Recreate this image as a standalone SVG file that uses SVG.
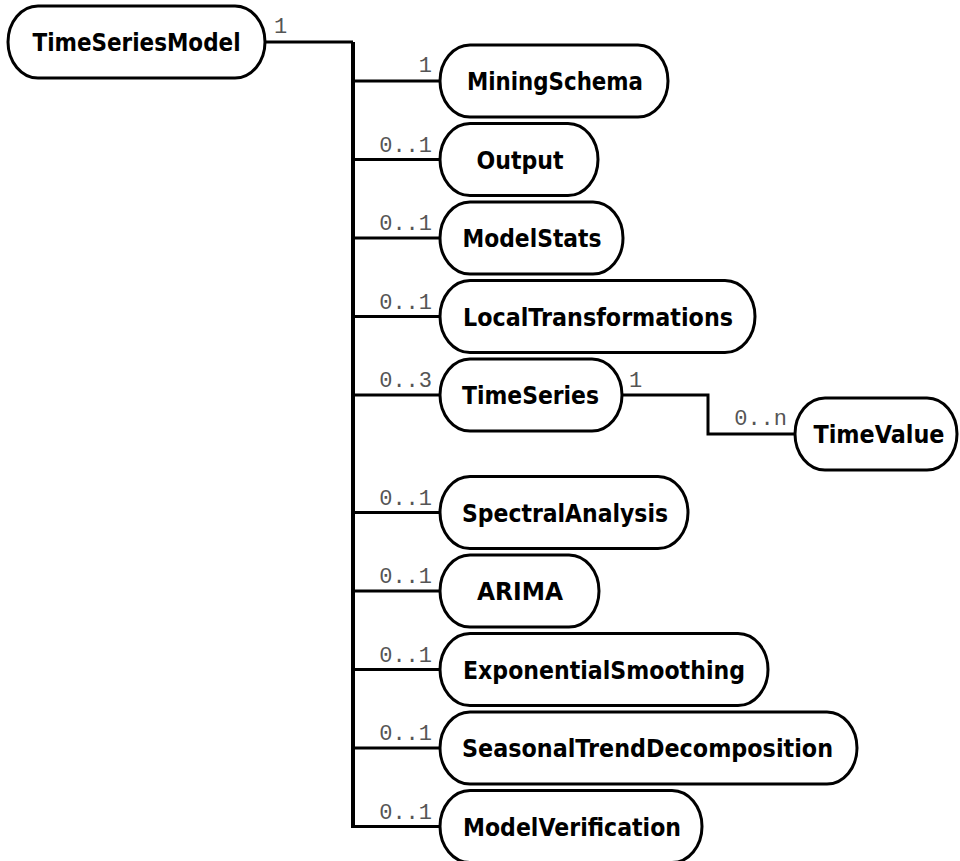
<svg xmlns="http://www.w3.org/2000/svg" width="960" height="861" viewBox="0 0 960 861">
<style>
.node rect{fill:#fff;stroke:#000;stroke-width:3}
.node text{font-family:"DejaVu Sans",Verdana,sans-serif;font-weight:bold;font-size:24px;fill:#000;text-anchor:middle}
.conn path{fill:none;stroke:#000;stroke-width:3;stroke-linejoin:miter}
.conn .trunk{stroke-width:4}
.lbl{font-family:"Liberation Mono","Courier New",monospace;font-size:22px;fill:#555}
.lbl .e{text-anchor:end}
</style>
<rect width="960" height="861" fill="#fff"/>
<g id="connectors" class="conn">
<path class="trunk" d="M353,42 V826.5"/>
<path d="M265,42 H353"/>
<path d="M353,81 H440"/>
<path d="M353,159.5 H440"/>
<path d="M353,238 H440"/>
<path d="M353,316.5 H440"/>
<path d="M353,395 H440"/>
<path d="M353,512.5 H440"/>
<path d="M353,591 H440"/>
<path d="M353,669.5 H440"/>
<path d="M353,748 H440"/>
<path d="M351,826.5 H440"/>
<path d="M622,395 H708 V434 H795"/>
<g class="lbl">
<text x="274" y="33">1</text>
<text class="e" x="432" y="72">1</text>
<text class="e" x="432" y="151.5">0..1</text>
<text class="e" x="432" y="230">0..1</text>
<text class="e" x="432" y="308.5">0..1</text>
<text class="e" x="432" y="387">0..3</text>
<text x="629" y="387">1</text>
<text class="e" x="787" y="425">0..n</text>
<text class="e" x="432" y="504.5">0..1</text>
<text class="e" x="432" y="583">0..1</text>
<text class="e" x="432" y="661.5">0..1</text>
<text class="e" x="432" y="740">0..1</text>
<text class="e" x="432" y="818.5">0..1</text>
</g>
</g>
<g id="TimeSeriesModel" class="node"><rect x="8" y="6" width="257" height="72" rx="30" ry="36"/><text x="136.5" y="51" textLength="208" lengthAdjust="spacingAndGlyphs">TimeSeriesModel</text></g>
<g id="MiningSchema" class="node"><rect x="440" y="45" width="228" height="72" rx="30" ry="36"/><text x="555" y="90" textLength="176" lengthAdjust="spacingAndGlyphs">MiningSchema</text></g>
<g id="Output" class="node"><rect x="440" y="123.5" width="158" height="72" rx="30" ry="36"/><text x="520" y="168.5" textLength="87" lengthAdjust="spacingAndGlyphs">Output</text></g>
<g id="ModelStats" class="node"><rect x="440" y="202" width="183" height="72" rx="30" ry="36"/><text x="532" y="247" textLength="139" lengthAdjust="spacingAndGlyphs">ModelStats</text></g>
<g id="LocalTransformations" class="node"><rect x="440" y="280.5" width="315" height="72" rx="30" ry="36"/><text x="598" y="325.5" textLength="270" lengthAdjust="spacingAndGlyphs">LocalTransformations</text></g>
<g id="TimeSeries" class="node"><rect x="440" y="359" width="182" height="72" rx="30" ry="36"/><text x="530.5" y="404" textLength="137" lengthAdjust="spacingAndGlyphs">TimeSeries</text></g>
<g id="TimeValue" class="node"><rect x="795" y="398" width="162" height="72" rx="30" ry="36"/><text x="879" y="443" textLength="131" lengthAdjust="spacingAndGlyphs">TimeValue</text></g>
<g id="SpectralAnalysis" class="node"><rect x="440" y="476.5" width="248" height="72" rx="30" ry="36"/><text x="565" y="521.5" textLength="206" lengthAdjust="spacingAndGlyphs">SpectralAnalysis</text></g>
<g id="ARIMA" class="node"><rect x="440" y="555" width="159" height="72" rx="30" ry="36"/><text x="520" y="600" textLength="86" lengthAdjust="spacingAndGlyphs">ARIMA</text></g>
<g id="ExponentialSmoothing" class="node"><rect x="440" y="633.5" width="328" height="72" rx="30" ry="36"/><text x="604" y="678.5" textLength="282" lengthAdjust="spacingAndGlyphs">ExponentialSmoothing</text></g>
<g id="SeasonalTrendDecomposition" class="node"><rect x="440" y="712" width="417" height="72" rx="30" ry="36"/><text x="647.5" y="757" textLength="371" lengthAdjust="spacingAndGlyphs">SeasonalTrendDecomposition</text></g>
<g id="ModelVerification" class="node"><rect x="440" y="790.5" width="262" height="72" rx="30" ry="36"/><text x="572" y="835.5" textLength="218" lengthAdjust="spacingAndGlyphs">ModelVerification</text></g>
</svg>
